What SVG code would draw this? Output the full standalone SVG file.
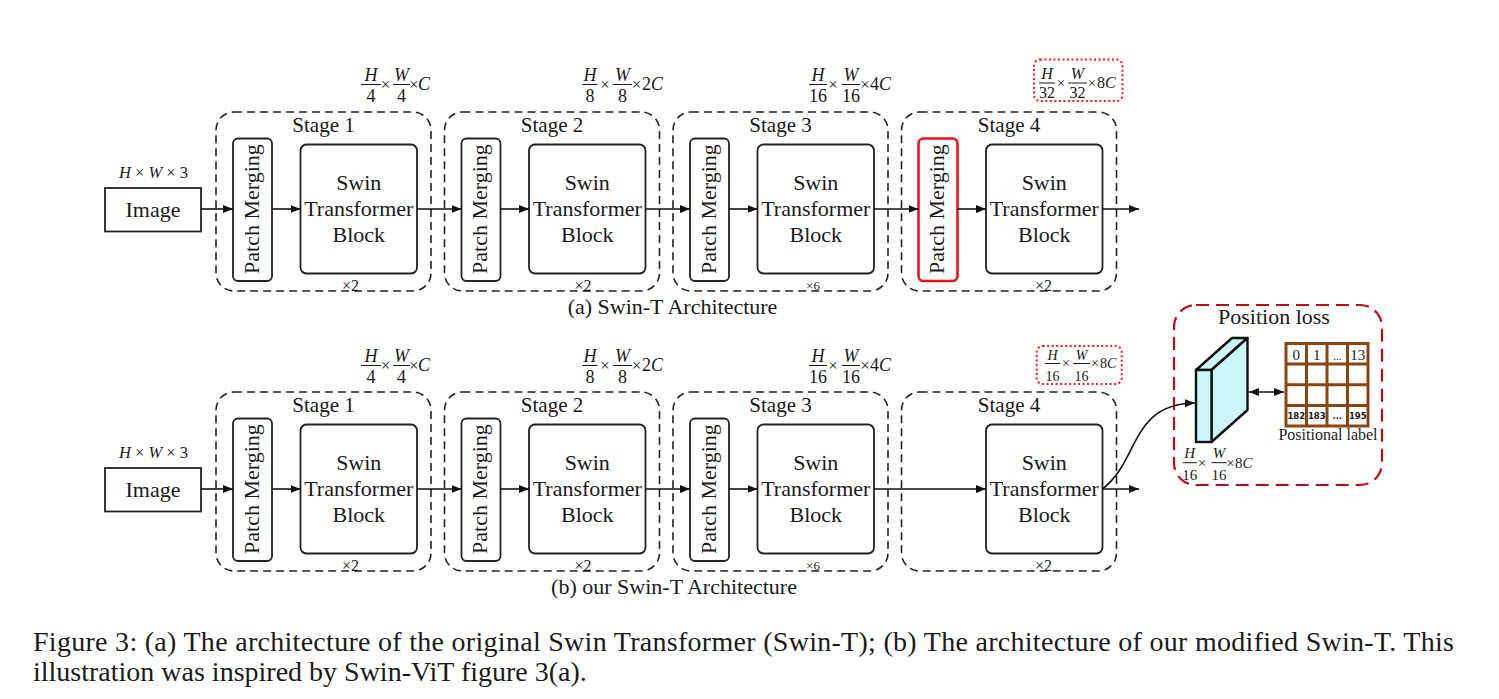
<svg xmlns="http://www.w3.org/2000/svg" width="1499" height="699" viewBox="0 0 1499 699">
<defs>
<marker id="ah" viewBox="0 0 10 8" refX="10" refY="4" markerWidth="10" markerHeight="8" markerUnits="userSpaceOnUse" orient="auto-start-reverse"><path d="M0,0 L10,4 L0,8 z" fill="#111"/></marker>
<style>
text{font-family:"Liberation Serif","Times New Roman",serif;fill:#1a1a1a}
.stage{fill:none;stroke:#222;stroke-width:1.6;stroke-dasharray:8 5}
.box{fill:#fff;stroke:#222;stroke-width:1.8}
.pmred{fill:#fff;stroke:#e8141b;stroke-width:2.6}
.t22{font-size:22px;text-anchor:middle}
.t21{font-size:21px;text-anchor:middle}
.rep{font-size:16px;text-anchor:middle}
.fr{font-size:18px;text-anchor:middle}
.it{font-style:italic}
.bar{stroke:#1a1a1a;stroke-width:1}
.x{font-size:17px;text-anchor:middle}
.con{fill:none;stroke:#111;stroke-width:1.6;marker-end:url(#ah)}
.dot{fill:none;stroke:#ff1a1a;stroke-width:2;stroke-dasharray:2 2.5}
.cap{font-size:28px}
.grid{stroke:#8B4513;stroke-width:3;fill:none}
.g15{font-size:15px;text-anchor:middle}
.gs{font-family:"DejaVu Sans",sans-serif;font-size:8.5px;font-weight:bold;text-anchor:middle}
</style>
</defs>

<!-- ===== Row (a) ===== -->
<g id="a-image">
<text x="153.5" y="178" font-size="16.5" text-anchor="middle"><tspan class="it">H</tspan> × <tspan class="it">W</tspan> × 3</text>
<rect x="105" y="188" width="96" height="43.5" fill="#fff" stroke="#222" stroke-width="1.8"/>
<text x="153" y="217" class="t22">Image</text>
</g>

<g id="a-stage1">
<rect class="stage" x="216" y="112" width="215" height="179" rx="18"/>
<text x="323.5" y="132" class="t21">Stage 1</text>
<rect class="box" x="233" y="138.5" width="39" height="142.5" rx="5"/>
<text class="t22" transform="translate(258.5,209) rotate(-90)">Patch Merging</text>
<rect class="box" x="300.5" y="144.5" width="116.5" height="129" rx="6"/>
<text x="358.75" y="190" class="t22">Swin</text>
<text x="358.75" y="216" class="t22">Transformer</text>
<text x="358.75" y="242" class="t22">Block</text>
<text x="350.5" y="291" class="rep">×2</text>
</g>
<g id="a-dim1">
<text x="371" y="81" class="fr it">H</text><line class="bar" x1="361" y1="84.5" x2="381" y2="84.5"/><text x="371" y="101.5" class="fr">4</text>
<text x="385.5" y="90" class="x">×</text>
<text x="401.5" y="81" class="fr it">W</text><line class="bar" x1="393" y1="84.5" x2="410" y2="84.5"/><text x="401.5" y="101.5" class="fr">4</text>
<text x="413.7" y="90" class="x">×</text>
<text x="418" y="90" font-size="18" font-style="italic">C</text>
</g>

<g id="a-stage2">
<rect class="stage" x="444.5" y="112" width="215" height="179" rx="18"/>
<text x="552" y="132" class="t21">Stage 2</text>
<rect class="box" x="461.5" y="138.5" width="39" height="142.5" rx="5"/>
<text class="t22" transform="translate(487,209) rotate(-90)">Patch Merging</text>
<rect class="box" x="529" y="144.5" width="116.5" height="129" rx="6"/>
<text x="587.25" y="190" class="t22">Swin</text>
<text x="587.25" y="216" class="t22">Transformer</text>
<text x="587.25" y="242" class="t22">Block</text>
<text x="583" y="291" class="rep">×2</text>
</g>
<g id="a-dim2">
<text x="590" y="81" class="fr it">H</text><line class="bar" x1="582.5" y1="84.5" x2="597.5" y2="84.5"/><text x="590" y="101.5" class="fr">8</text>
<text x="605" y="90" class="x">×</text>
<text x="622.5" y="81" class="fr it">W</text><line class="bar" x1="613" y1="84.5" x2="632" y2="84.5"/><text x="622.5" y="101.5" class="fr">8</text>
<text x="636.5" y="90" class="x">×</text>
<text x="642" y="90" font-size="18">2<tspan font-style="italic">C</tspan></text>
</g>

<g id="a-stage3">
<rect class="stage" x="673" y="112" width="215" height="179" rx="18"/>
<text x="780.5" y="132" class="t21">Stage 3</text>
<rect class="box" x="690" y="138.5" width="39" height="142.5" rx="5"/>
<text class="t22" transform="translate(715.5,209) rotate(-90)">Patch Merging</text>
<rect class="box" x="757.5" y="144.5" width="116.5" height="129" rx="6"/>
<text x="815.75" y="190" class="t22">Swin</text>
<text x="815.75" y="216" class="t22">Transformer</text>
<text x="815.75" y="242" class="t22">Block</text>
<text x="813" y="289.5" font-size="13" text-anchor="middle">×6</text>
</g>
<g id="a-dim3">
<text x="818" y="81" class="fr it">H</text><line class="bar" x1="809" y1="84.5" x2="827" y2="84.5"/><text x="818" y="101.5" class="fr">16</text>
<text x="833" y="90" class="x">×</text>
<text x="851" y="81" class="fr it">W</text><line class="bar" x1="842" y1="84.5" x2="860" y2="84.5"/><text x="851" y="101.5" class="fr">16</text>
<text x="865" y="90" class="x">×</text>
<text x="870" y="90" font-size="18">4<tspan font-style="italic">C</tspan></text>
</g>

<g id="a-stage4">
<rect class="stage" x="901.5" y="112" width="215" height="179" rx="18"/>
<text x="1009" y="132" class="t21">Stage 4</text>
<rect class="pmred" x="918.5" y="138.5" width="39" height="142.5" rx="5"/>
<text class="t22" transform="translate(944,209) rotate(-90)">Patch Merging</text>
<rect class="box" x="986" y="144.5" width="116.5" height="129" rx="6"/>
<text x="1044.25" y="190" class="t22">Swin</text>
<text x="1044.25" y="216" class="t22">Transformer</text>
<text x="1044.25" y="242" class="t22">Block</text>
<text x="1043.5" y="291" class="rep">×2</text>
</g>
<g id="a-dim4">
<rect class="dot" x="1034" y="59.5" width="88.5" height="41.5" rx="6"/>
<text x="1047" y="79" font-size="16" font-style="italic" text-anchor="middle">H</text><line class="bar" x1="1039" y1="83" x2="1055" y2="83"/><text x="1047" y="98" font-size="16" text-anchor="middle">32</text>
<text x="1061" y="88" font-size="15" text-anchor="middle">×</text>
<text x="1077.5" y="79" font-size="16" font-style="italic" text-anchor="middle">W</text><line class="bar" x1="1068" y1="83" x2="1087" y2="83"/><text x="1077.5" y="98" font-size="16" text-anchor="middle">32</text>
<text x="1092" y="88" font-size="15" text-anchor="middle">×</text>
<text x="1097" y="88" font-size="16">8<tspan font-style="italic">C</tspan></text>
</g>

<text x="672.5" y="314" class="t22">(a) Swin-T Architecture</text>

<!-- ===== Row (b) ===== -->
<g id="b-image">
<text x="153.5" y="458" font-size="16.5" text-anchor="middle"><tspan class="it">H</tspan> × <tspan class="it">W</tspan> × 3</text>
<rect x="105" y="468" width="96" height="43.5" fill="#fff" stroke="#222" stroke-width="1.8"/>
<text x="153" y="497" class="t22">Image</text>
</g>

<g id="b-stage1">
<rect class="stage" x="216" y="392" width="215" height="179" rx="18"/>
<text x="323.5" y="412" class="t21">Stage 1</text>
<rect class="box" x="233" y="418.5" width="39" height="142.5" rx="5"/>
<text class="t22" transform="translate(258.5,489) rotate(-90)">Patch Merging</text>
<rect class="box" x="300.5" y="424.5" width="116.5" height="129" rx="6"/>
<text x="358.75" y="470" class="t22">Swin</text>
<text x="358.75" y="496" class="t22">Transformer</text>
<text x="358.75" y="522" class="t22">Block</text>
<text x="350.5" y="571" class="rep">×2</text>
</g>
<g id="b-dim1">
<text x="371" y="362" class="fr it">H</text><line class="bar" x1="361" y1="365.5" x2="381" y2="365.5"/><text x="371" y="382.5" class="fr">4</text>
<text x="385.5" y="371" class="x">×</text>
<text x="401.5" y="362" class="fr it">W</text><line class="bar" x1="393" y1="365.5" x2="410" y2="365.5"/><text x="401.5" y="382.5" class="fr">4</text>
<text x="413.7" y="371" class="x">×</text>
<text x="418" y="371" font-size="18" font-style="italic">C</text>
</g>

<g id="b-stage2">
<rect class="stage" x="444.5" y="392" width="215" height="179" rx="18"/>
<text x="552" y="412" class="t21">Stage 2</text>
<rect class="box" x="461.5" y="418.5" width="39" height="142.5" rx="5"/>
<text class="t22" transform="translate(487,489) rotate(-90)">Patch Merging</text>
<rect class="box" x="529" y="424.5" width="116.5" height="129" rx="6"/>
<text x="587.25" y="470" class="t22">Swin</text>
<text x="587.25" y="496" class="t22">Transformer</text>
<text x="587.25" y="522" class="t22">Block</text>
<text x="583" y="571" class="rep">×2</text>
</g>
<g id="b-dim2">
<text x="590" y="362" class="fr it">H</text><line class="bar" x1="582.5" y1="365.5" x2="597.5" y2="365.5"/><text x="590" y="382.5" class="fr">8</text>
<text x="605" y="371" class="x">×</text>
<text x="622.5" y="362" class="fr it">W</text><line class="bar" x1="613" y1="365.5" x2="632" y2="365.5"/><text x="622.5" y="382.5" class="fr">8</text>
<text x="636.5" y="371" class="x">×</text>
<text x="642" y="371" font-size="18">2<tspan font-style="italic">C</tspan></text>
</g>

<g id="b-stage3">
<rect class="stage" x="673" y="392" width="215" height="179" rx="18"/>
<text x="780.5" y="412" class="t21">Stage 3</text>
<rect class="box" x="690" y="418.5" width="39" height="142.5" rx="5"/>
<text class="t22" transform="translate(715.5,489) rotate(-90)">Patch Merging</text>
<rect class="box" x="757.5" y="424.5" width="116.5" height="129" rx="6"/>
<text x="815.75" y="470" class="t22">Swin</text>
<text x="815.75" y="496" class="t22">Transformer</text>
<text x="815.75" y="522" class="t22">Block</text>
<text x="813" y="569.5" font-size="13" text-anchor="middle">×6</text>
</g>
<g id="b-dim3">
<text x="818" y="362" class="fr it">H</text><line class="bar" x1="809" y1="365.5" x2="827" y2="365.5"/><text x="818" y="382.5" class="fr">16</text>
<text x="833" y="371" class="x">×</text>
<text x="851" y="362" class="fr it">W</text><line class="bar" x1="842" y1="365.5" x2="860" y2="365.5"/><text x="851" y="382.5" class="fr">16</text>
<text x="865" y="371" class="x">×</text>
<text x="870" y="371" font-size="18">4<tspan font-style="italic">C</tspan></text>
</g>

<g id="b-stage4">
<rect class="stage" x="901.5" y="392" width="215" height="179" rx="18"/>
<text x="1009" y="412" class="t21">Stage 4</text>
<rect class="box" x="986" y="424.5" width="116.5" height="129" rx="6"/>
<text x="1044.25" y="470" class="t22">Swin</text>
<text x="1044.25" y="496" class="t22">Transformer</text>
<text x="1044.25" y="522" class="t22">Block</text>
<text x="1043.5" y="571" class="rep">×2</text>
</g>
<g id="b-dim4">
<rect class="dot" x="1036.7" y="346" width="85" height="38" rx="6"/>
<text x="1052.5" y="360" font-size="14" font-style="italic" text-anchor="middle">H</text><line class="bar" x1="1045" y1="363.5" x2="1060" y2="363.5"/><text x="1052.5" y="381" font-size="14" text-anchor="middle">16</text>
<text x="1066" y="368" font-size="14" text-anchor="middle">×</text>
<text x="1081.5" y="360" font-size="14" font-style="italic" text-anchor="middle">W</text><line class="bar" x1="1073" y1="363.5" x2="1090" y2="363.5"/><text x="1081.5" y="381" font-size="14" text-anchor="middle">16</text>
<text x="1095" y="368" font-size="14" text-anchor="middle">×</text>
<text x="1100" y="368" font-size="14">8<tspan font-style="italic">C</tspan></text>
</g>

<g id="position-loss">
<rect x="1174" y="305" width="208" height="180" rx="22" fill="none" stroke="#c00a12" stroke-width="2.2" stroke-dasharray="13 7"/>
<text x="1274" y="324" class="t22">Position loss</text>
</g>
<g id="feature-cube">
<polygon points="1196,370 1232,338 1247.5,338 1211.5,370" fill="#ccf7fa" stroke="#111" stroke-width="2.4" stroke-linejoin="round"/>
<polygon points="1211.5,370 1247.5,338 1247.5,410 1211.5,442" fill="#ccf7fa" stroke="#111" stroke-width="2.4" stroke-linejoin="round"/>
<rect x="1196" y="370" width="15.5" height="72" fill="#ccf7fa" stroke="#111" stroke-width="2.4"/>
<text x="1189.7" y="458" font-size="15" font-style="italic" text-anchor="middle">H</text><line class="bar" x1="1182.7" y1="462.7" x2="1196.7" y2="462.7"/><text x="1189.7" y="480" font-size="15" text-anchor="middle">16</text>
<text x="1202" y="468" font-size="15" text-anchor="middle">×</text>
<text x="1219" y="458" font-size="15" font-style="italic" text-anchor="middle">W</text><line class="bar" x1="1211.5" y1="462.7" x2="1226.7" y2="462.7"/><text x="1219" y="480" font-size="15" text-anchor="middle">16</text>
<text x="1230.5" y="468" font-size="15" text-anchor="middle">×</text>
<text x="1235" y="468" font-size="15">8<tspan font-style="italic">C</tspan></text>
</g>
<g id="positional-label">
<rect x="1286" y="343.5" width="82" height="82.5" fill="#fff"/>
<path class="grid" d="M1286,343.5 H1368 V426 H1286 Z M1306.5,343.5 V426 M1327,343.5 V426 M1347.5,343.5 V426 M1286,364.1 H1368 M1286,384.75 H1368 M1286,405.4 H1368"/>
<text x="1296.25" y="360" class="g15">0</text>
<text x="1316.75" y="360" class="g15">1</text>
<text x="1337.25" y="360" font-size="11" text-anchor="middle">...</text>
<text x="1357.75" y="360" class="g15">13</text>
<text x="1296.25" y="419" class="gs">182</text>
<text x="1316.75" y="419" class="gs">183</text>
<text x="1337.25" y="419" class="gs">...</text>
<text x="1357.75" y="419" class="gs">195</text>
<text x="1328" y="440" font-size="16" text-anchor="middle">Positional label</text>
</g>

<text x="674" y="594" class="t22">(b) our Swin-T Architecture</text>

<!-- ===== Connectors ===== -->
<g id="connectors">
<line class="con" x1="201" y1="209" x2="233" y2="209"/>
<line class="con" x1="272" y1="209" x2="300.5" y2="209"/>
<line class="con" x1="417" y1="209" x2="461.5" y2="209"/>
<line class="con" x1="500.5" y1="209" x2="529" y2="209"/>
<line class="con" x1="645.5" y1="209" x2="690" y2="209"/>
<line class="con" x1="729" y1="209" x2="757.5" y2="209"/>
<line class="con" x1="874" y1="209" x2="918.5" y2="209"/>
<line class="con" x1="957.5" y1="209" x2="986" y2="209"/>
<line class="con" x1="1102.5" y1="209" x2="1139" y2="209"/>

<line class="con" x1="201" y1="489" x2="233" y2="489"/>
<line class="con" x1="272" y1="489" x2="300.5" y2="489"/>
<line class="con" x1="417" y1="489" x2="461.5" y2="489"/>
<line class="con" x1="500.5" y1="489" x2="529" y2="489"/>
<line class="con" x1="645.5" y1="489" x2="690" y2="489"/>
<line class="con" x1="729" y1="489" x2="757.5" y2="489"/>
<line class="con" x1="874" y1="489" x2="986" y2="489"/>
<line class="con" x1="1102.5" y1="489" x2="1139" y2="489"/>
<path class="con" d="M1102.5,489 C1140,460 1130,404 1195,403"/>
<line x1="1249" y1="392" x2="1284" y2="392" stroke="#111" stroke-width="1.6" marker-start="url(#ah)" marker-end="url(#ah)"/>
</g>

<!-- ===== Caption ===== -->
<text x="33" y="651" class="cap" textLength="1421" lengthAdjust="spacing">Figure 3: (a) The architecture of the original Swin Transformer (Swin-T); (b) The architecture of our modified Swin-T. This</text>
<text x="33" y="681" class="cap">illustration was inspired by Swin-ViT figure 3(a).</text>
</svg>
